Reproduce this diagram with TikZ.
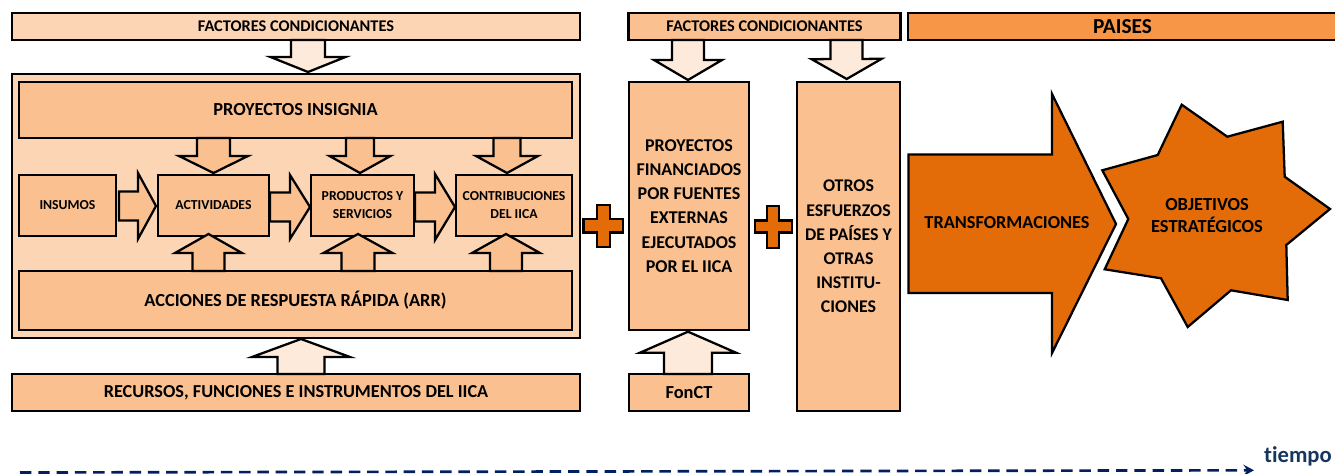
\documentclass[tikz,border=0pt]{standalone}
\usepackage{fontspec}
\setmainfont{Carlito}[Ligatures=NoCommon]
\usetikzlibrary{calc,arrows.meta}
\definecolor{cpale}{HTML}{FDEADA}
\definecolor{clight}{HTML}{FCD5B5}
\definecolor{cmid}{HTML}{FAC090}
\definecolor{cstrong}{HTML}{F79646}
\definecolor{cdeep}{HTML}{E36C09}
\definecolor{cnavy}{HTML}{002060}
\definecolor{ctext}{HTML}{17365D}
\tikzset{
  edge/.style={draw=black,line width=1.7pt,line join=miter,miter limit=12},
  boxbase/.style={edge,inner sep=0pt,outer sep=0pt,align=center,font=\bfseries},
  lbl/.style={inner sep=0pt,outer sep=0pt,align=center,font=\bfseries},
  arrpale/.style={edge,fill=cpale},
  arrmid/.style={edge,fill=cmid},
  deepshape/.style={edge,fill=cdeep},
}
\newcommand{\fs}[2]{\fontsize{#1}{#2}\selectfont}
% \rbox[style]{name}{x1}{y1}{x2}{y2}{text}
\newcommand{\rbox}[7][]{%
  \pgfmathsetlengthmacro{\rw}{(#5-#3)*0.75pt}%
  \pgfmathsetlengthmacro{\rh}{(#6-#4)*0.75pt}%
  \node[boxbase,minimum width=\rw,minimum height=\rh,#1] (#2) at ({(#3+#5)/2},{(#4+#6)/2}) {\vspace*{1.5pt}#7};%
}
% \blockarrow[style]{start}{tip}{head length}{shaft half}{head half}
\newcommand{\blockarrow}[6][]{%
  \coordinate (ba) at #2;
  \coordinate (ti) at #3;
  \coordinate (nk) at ($(ti)!#4*0.75pt!(ba)$);
  \draw[#1] ($(ba)!#5*0.75pt!90:(ti)$) -- ($(nk)!#5*0.75pt!90:(ti)$) -- ($(nk)!#6*0.75pt!90:(ti)$)
    -- (ti) -- ($(nk)!#6*0.75pt!-90:(ti)$) -- ($(nk)!#5*0.75pt!-90:(ti)$) -- ($(ba)!#5*0.75pt!-90:(ti)$) -- cycle;
}
\begin{document}
\begin{tikzpicture}[x=0.75pt,y=-0.75pt]
\useasboundingbox (0,0) rectangle (1335,474);
% left block
\rbox[fill=clight,font=\bfseries\fs{12.25}{14}]{top}{12}{13}{580}{40}{FACTORES CONDICIONANTES}
\rbox[fill=clight]{big}{12}{74}{580}{338}{}
\rbox[fill=cmid,font=\bfseries\fs{13.8}{16}]{pi}{19}{82}{572}{138}{PROYECTOS INSIGNIA}
\rbox[fill=cmid,font=\bfseries\fs{10.3}{12}]{ins}{19}{175}{116}{236}{INSUMOS}
\rbox[fill=cmid,font=\bfseries\fs{10.3}{12}]{act}{158}{175}{269}{236}{ACTIVIDADES}
\rbox[fill=cmid,font=\bfseries\fs{10.3}{13.5}]{prod}{311}{175}{414}{236}{PRODUCTOS Y\\SERVICIOS}
\rbox[fill=cmid,font=\bfseries\fs{10.3}{13.5}]{contr}{456}{175}{572}{236}{CONTRIBUCIONES\\DEL IICA}
\rbox[fill=cmid,font=\bfseries\fs{13.8}{16}]{arr}{19}{271}{572}{330}{ACCIONES DE RESPUESTA RÁPIDA (ARR)}
\rbox[fill=cmid,font=\bfseries\fs{13.7}{16}]{rec}{12}{374}{580}{411}{RECURSOS, FUNCIONES E INSTRUMENTOS DEL IICA}
% middle block
\rbox[fill=cmid,font=\bfseries\fs{12.25}{14}]{fac}{628.5}{13}{900.5}{40}{FACTORES CONDICIONANTES}
\rbox[fill=cmid,font=\bfseries\fs{13.5}{18.1}]{pf}{629}{82}{749}{330}{PROYECTOS\\FINANCIADOS\\POR FUENTES\\EXTERNAS\\EJECUTADOS\\POR EL IICA}
\rbox[fill=cmid,font=\bfseries\fs{13.4}{18.1}]{ot}{797}{82}{900}{411}{OTROS\\ESFUERZOS\\DE PAÍSES Y\\OTRAS\\INSTITU-\\CIONES}
\rbox[fill=cmid,font=\bfseries\fs{13.8}{16}]{fon}{629}{374}{749}{411}{FonCT}
% countries
\rbox[fill=cstrong,font=\bfseries\fs{16}{18}]{pai}{908}{13}{1337}{40}{PAISES}
% block arrows
\blockarrow[arrpale]{($(top.south)+(12,0)$)}{($(big.north)+(12,-2)$)}{15}{17}{37.5}
\blockarrow[arrmid]{($(pi.south)+(-82,0)$)}{($(act.north)+(0,-2)$)}{17}{16.5}{34.5}
\blockarrow[arrmid]{($(pi.south)+(64.5,0)$)}{($(prod.north)+(-2.5,-2)$)}{17}{14}{30.5}
\blockarrow[arrmid]{($(pi.south)+(211.5,0)$)}{($(contr.north)+(-7,-2)$)}{17}{13.5}{31}
\blockarrow[arrmid]{($(ins.east)+(3,0.5)$)}{($(act.west)+(-2,0.5)$)}{18}{14.5}{33}
\blockarrow[arrmid]{($(act.east)+(1,1.5)$)}{($(prod.west)+(-1,1.5)$)}{20}{14.5}{32}
\blockarrow[arrmid]{($(prod.east)+(1,1.5)$)}{($(contr.west)+(-1,1.5)$)}{20}{14.5}{33}
\blockarrow[arrmid]{($(arr.north)+(-87,0)$)}{($(act.south)+(-5,-2)$)}{19}{16}{33.5}
\blockarrow[arrmid]{($(arr.north)+(62.5,0)$)}{($(prod.south)+(-4.5,-2)$)}{19}{16.5}{34.5}
\blockarrow[arrmid]{($(arr.north)+(210.5,0)$)}{($(contr.south)+(-8,-2)$)}{19}{16}{34}
\blockarrow[arrpale]{($(rec.north)+(5,0)$)}{($(big.south)+(5,1)$)}{18}{23.5}{49}
\blockarrow[arrpale]{($(fac.south)+(-76.5,0)$)}{($(pf.north)+(-1,-2)$)}{20}{16}{34}
\blockarrow[arrpale]{($(fac.south)+(82,0)$)}{($(ot.north)+(-1.8,-3)$)}{20}{16}{35}
\blockarrow[arrpale]{($(fon.north)+(-1,0)$)}{($(pf.south)+(-1,1.7)$)}{21}{24}{48}
% plus signs
\draw[deepshape] (597,205) -- (610,205) -- (610,219) -- (623,219) -- (623,232.5) -- (610,232.5) -- (610,247) -- (597,247) -- (597,232.5) -- (583.5,232.5) -- (583.5,219) -- (597,219) -- cycle;
\draw[deepshape] (767,206) -- (779,206) -- (779,220.5) -- (792,220.5) -- (792,232.5) -- (779,232.5) -- (779,248) -- (767,248) -- (767,232.5) -- (755,232.5) -- (755,220.5) -- (767,220.5) -- cycle;
% transformaciones
\draw[deepshape] (908.5,154.5) -- (1052,154.5) -- (1052,94) -- (1116,224) -- (1052,353) -- (1052,293) -- (908.5,293) -- cycle;
\node[lbl,font=\bfseries\fs{13.7}{16}] (tra) at (1007,223) {TRANSFORMACIONES};
% star
\draw[deepshape] (1102.3,170.3) -- (1157.7,155) -- (1181.7,104.7) -- (1227.3,136.7) -- (1282.7,121.7) -- (1284.7,176.7) -- (1330,209) -- (1286.3,245) -- (1287.7,300) -- (1231,290.3) -- (1187.7,327) -- (1161,278.3) -- (1104.7,269.3) -- (1128.3,219) -- cycle;
\node[lbl,font=\bfseries\fs{13.8}{16.5}] (obj) at (1207,216) {OBJETIVOS\\ESTRATÉGICOS};
% time line
\node[lbl,text=ctext,font=\bfseries\fs{17}{20}] (tiem) at (1298,456) {tiempo};
\coordinate (ts) at (20,472.5);
\coordinate (te) at (1254,470.3);
\draw[cnavy,line width=2pt,dash pattern=on 8.6pt off 5.1pt,-{Stealth[length=8pt,width=8.5pt,inset=3pt]}] (ts) -- (te);
\end{tikzpicture}
\end{document}
